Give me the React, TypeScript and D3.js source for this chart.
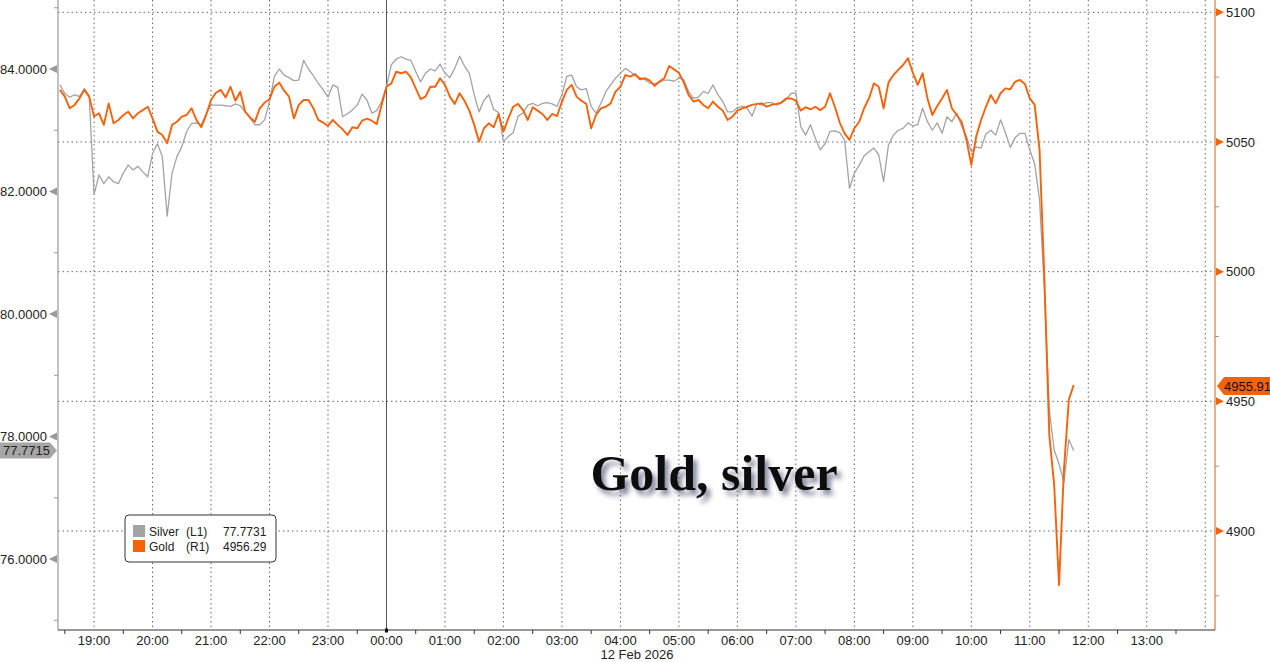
import React from "react";
import * as d3 from "d3";

const W = 1270;
const H = 662;

// Series sampled every 5 minutes starting 11 Feb 2026 18:25
const START = new Date(2026, 1, 11, 18, 25);
const STEP_MIN = 5;

const silver = [
  83.74, 83.6, 83.54, 83.58, 83.55, 83.68, 83.56, 81.95, 82.27, 82.13,
  82.24, 82.16, 82.13, 82.3, 82.43, 82.35, 82.41, 82.32, 82.24, 82.62,
  82.78, 82.57, 81.6, 82.3, 82.57, 82.73, 82.98, 83.11, 83.12, 83.09,
  83.27, 83.41, 83.41, 83.41, 83.4, 83.39, 83.43, 83.4, 83.3, 83.2,
  83.09, 83.09, 83.17, 83.47, 83.88, 84.0, 83.9, 83.86, 83.81, 83.82,
  84.14, 84.0, 83.89, 83.77, 83.66, 83.54, 83.74, 83.7, 83.22, 83.27,
  83.33, 83.41, 83.59, 83.49, 83.28, 83.32, 83.47, 83.71, 84.07, 84.16,
  84.2, 84.16, 84.14, 83.96, 83.79, 83.93, 84.0, 83.97, 84.08, 83.93,
  83.86, 84.01, 84.21, 84.05, 83.93, 83.58, 83.3, 83.49, 83.58, 83.34,
  83.29, 82.81, 82.9, 82.96, 83.23, 83.28, 83.41, 83.44, 83.4, 83.44,
  83.45, 83.43, 83.39, 83.58, 83.88, 83.9, 83.71, 83.66, 83.68, 83.39,
  83.28, 83.44, 83.63, 83.74, 83.85, 83.93, 84.01, 83.96, 83.89, 83.86,
  83.83, 83.77, 83.76, 83.78, 83.82, 83.82, 83.8, 83.85, 83.83, 83.63,
  83.52, 83.54, 83.63, 83.6, 83.74, 83.58, 83.47, 83.3, 83.3, 83.37,
  83.39, 83.36, 83.23, 83.44, 83.41, 83.45, 83.45, 83.41, 83.44, 83.5,
  83.6, 83.61, 83.06, 82.92, 83.09, 82.87, 82.68, 82.78, 82.98, 82.99,
  82.96, 82.84, 82.05, 82.3, 82.43, 82.58, 82.65, 82.71, 82.6, 82.16,
  82.76, 82.92, 83.0, 83.03, 83.12, 83.07, 83.09, 83.36, 83.14, 83.0,
  83.12, 82.95, 83.22, 83.14, 83.28, 83.07, 82.9, 82.65, 82.73, 82.71,
  82.94, 83.0, 82.92, 83.17, 82.96, 82.72, 82.88, 82.95, 82.95, 82.68,
  82.45, 81.86, 80.39, 78.43, 77.78, 77.55, 77.25, 77.95, 77.77,
];

const gold = [
  5070.1, 5067.5, 5063.0, 5064.3, 5066.8, 5070.1, 5067.5, 5059.8, 5061.1, 5056.6,
  5064.9, 5057.2, 5058.5, 5060.4, 5061.7, 5059.1, 5061.1, 5062.3, 5063.6, 5059.1,
  5054.0, 5052.7, 5049.5, 5056.6, 5057.8, 5059.8, 5060.4, 5063.0, 5058.5, 5055.7,
  5060.4, 5066.2, 5069.0, 5070.1, 5067.2, 5071.3, 5065.9, 5069.4, 5061.7, 5059.5,
  5057.8, 5063.0, 5065.2, 5066.5, 5071.3, 5072.9, 5069.8, 5067.5, 5059.1, 5064.3,
  5066.2, 5066.2, 5063.0, 5058.5, 5057.5, 5056.2, 5058.5, 5056.6, 5054.9, 5052.7,
  5055.7, 5055.3, 5058.2, 5059.0, 5058.2, 5056.9, 5064.3, 5071.3, 5072.6, 5077.1,
  5076.5, 5077.1, 5074.9, 5070.7, 5066.5, 5067.5, 5071.3, 5071.3, 5074.6, 5072.0,
  5067.5, 5064.7, 5068.8, 5065.9, 5062.1, 5056.6, 5050.1, 5055.3, 5057.2, 5055.7,
  5060.8, 5054.0, 5059.1, 5063.6, 5064.7, 5062.3, 5058.5, 5063.4, 5062.1, 5060.8,
  5058.5, 5060.8, 5060.0, 5065.6, 5070.1, 5072.0, 5067.5, 5065.9, 5064.7, 5055.3,
  5060.4, 5063.0, 5063.6, 5064.9, 5069.4, 5071.3, 5075.8, 5075.2, 5076.2, 5074.2,
  5074.6, 5073.7, 5071.6, 5073.3, 5074.6, 5079.3, 5078.0, 5076.7, 5072.9, 5068.1,
  5065.6, 5066.2, 5064.3, 5063.0, 5065.6, 5063.6, 5062.1, 5058.5, 5059.8, 5062.1,
  5063.0, 5063.6, 5064.3, 5064.7, 5064.9, 5063.6, 5064.3, 5064.7, 5065.2, 5066.8,
  5066.8, 5065.9, 5062.1, 5063.4, 5062.6, 5063.6, 5062.3, 5063.6, 5068.8, 5063.6,
  5057.5, 5053.3, 5050.8, 5055.3, 5057.8, 5063.0, 5066.8, 5072.6, 5071.3, 5063.0,
  5072.9, 5075.8, 5077.8, 5079.7, 5082.3, 5076.7, 5072.0, 5076.5, 5066.8, 5060.4,
  5063.9, 5066.8, 5070.1, 5063.0, 5060.4, 5057.8, 5050.8, 5041.1, 5052.1, 5058.5,
  5063.6, 5068.1, 5064.9, 5068.8, 5070.7, 5070.3, 5073.3, 5073.9, 5072.4, 5066.8,
  5064.3, 5046.9, 4996.8, 4937.0, 4917.7, 4879.2, 4923.5, 4950.5, 4956.29,
];

const leftTicks = [84, 82, 80, 78, 76];
const leftMinor = [85, 83, 81, 79, 77, 75];
const rightTicks = [5100, 5050, 5000, 4950, 4900];
const rightMinor = [5075, 5025, 4975, 4925, 4875];

const seriesNames = ["Silver", "Gold"];
const seriesAxes = ["(L1)", "(R1)"];
const legendValues = ["77.7731", "4956.29"];
const lastSilverTag = "77.7715";
const lastGoldTag = "4955.91";
const dateLabel = "12 Feb 2026";
const title = "Gold, silver";

const SILVER_C = "#a3a3a3";
const GOLD_C = "#f5620a";
const FONT = "'Liberation Sans', Arial, sans-serif";

export default function App() {
  const L = 58, R = 1215, T = 0, B = 630;
  const x = d3
    .scaleTime()
    .domain([new Date(2026, 1, 11, 18, 23), new Date(2026, 1, 12, 14, 10)])
    .range([L, R]);
  const yL = d3.scaleLinear().domain([84, 76]).range([69, 559]);
  const yR = d3.scaleLinear().domain([5050, 4900]).range([142, 531]);

  const times = silver.map((_, i) => d3.timeMinute.offset(START, i * STEP_MIN));
  const silverLine = d3
    .line<number>()
    .x((_, i) => x(times[i]))
    .y((d) => yL(d))(silver);
  const goldLine = d3
    .line<number>()
    .x((_, i) => x(times[i]))
    .y((d) => yR(d))(gold);

  const hours = d3.timeHour.range(
    new Date(2026, 1, 11, 19, 0),
    new Date(2026, 1, 12, 14, 1)
  );
  const halfHours = d3.timeMinute
    .every(30)!
    .range(new Date(2026, 1, 11, 18, 30), new Date(2026, 1, 12, 14, 10))
    .filter((d) => d.getMinutes() === 30);
  const fmt = d3.timeFormat("%H:%M");
  const midnight = new Date(2026, 1, 12, 0, 0);

  const ySilverTag = yL(+lastSilverTag);
  const yGoldTag = yR(+lastGoldTag);

  return (
    <svg
      width={W}
      height={H}
      style={{ position: "absolute", left: 0, top: 0, background: "#fff" }}
      fontFamily={FONT}
    >
      <defs>
        <clipPath id="plot">
          <rect x={L} y={T} width={R - L} height={B - T} />
        </clipPath>
        <filter id="shadow" x="-10%" y="-30%" width="130%" height="170%">
          <feGaussianBlur in="SourceAlpha" stdDeviation="2.5" result="b" />
          <feOffset in="b" dx="4" dy="5" result="o" />
          <feFlood floodColor="#5c5f7a" floodOpacity="0.75" />
          <feComposite in2="o" operator="in" result="s" />
          <feMerge>
            <feMergeNode in="s" />
            <feMergeNode in="SourceGraphic" />
          </feMerge>
        </filter>
      </defs>
      <rect x={0} y={0} width={W} height={H} fill="#fff" />

      {/* horizontal grid (right axis majors) */}
      {rightTicks.map((v) => (
        <line
          key={"hg" + v}
          x1={L}
          x2={R}
          y1={yR(v)}
          y2={yR(v)}
          stroke="#666"
          strokeWidth={1}
          strokeDasharray="1.5 3"
        />
      ))}
      {/* vertical grid */}
      {hours.map((h) =>
        +h === +midnight ? (
          <line key={"vg" + +h} x1={x(h)} x2={x(h)} y1={T} y2={B} stroke="#555" strokeWidth={1} />
        ) : (
          <line
            key={"vg" + +h}
            x1={x(h)}
            x2={x(h)}
            y1={T}
            y2={B}
            stroke="#666"
            strokeWidth={1}
            strokeDasharray="1.5 3"
          />
        )
      )}

      {/* series */}
      <g clipPath="url(#plot)">
        <path d={silverLine || ""} fill="none" stroke={SILVER_C} strokeWidth={1.3} strokeLinejoin="round" />
        <path d={goldLine || ""} fill="none" stroke={GOLD_C} strokeWidth={1.9} strokeLinejoin="round" />
      </g>

      {/* left axis */}
      <line x1={L} x2={L} y1={T} y2={B} stroke="#999" strokeWidth={1.2} />
      {leftTicks.map((v) => (
        <g key={"lt" + v}>
          <polygon points={`${L - 1},${yL(v) - 4} ${L - 1},${yL(v) + 4} ${L - 9},${yL(v)}`} fill="#999" />
          <text x={47} y={yL(v) + 4.5} textAnchor="end" fontSize={13} fill="#222">
            {v.toFixed(4)}
          </text>
        </g>
      ))}
      {leftMinor.map((v) => (
        <line key={"lm" + v} x1={L - 4} x2={L} y1={yL(v)} y2={yL(v)} stroke="#999" />
      ))}

      {/* right axis */}
      <line x1={R} x2={R} y1={T} y2={B} stroke="#dd7a35" strokeWidth={1.2} />
      {rightTicks.map((v) => (
        <g key={"rt" + v}>
          <polygon points={`${R + 1},${yR(v) - 4} ${R + 1},${yR(v) + 4} ${R + 9},${yR(v)}`} fill={GOLD_C} />
          <text x={1226} y={yR(v) + 4.5} fontSize={13} fill="#222">
            {v}
          </text>
        </g>
      ))}
      {rightMinor.map((v) => (
        <line key={"rm" + v} x1={R} x2={R + 4} y1={yR(v)} y2={yR(v)} stroke="#999" />
      ))}

      {/* x axis */}
      <line x1={L} x2={R} y1={B} y2={B} stroke="#333" strokeWidth={1.2} />
      {halfHours.map((h) => (
        <line key={"hh" + +h} x1={x(h)} x2={x(h)} y1={B} y2={B + 4} stroke="#333" />
      ))}
      <rect x={x(midnight) - 1.5} y={B - 1.5} width={3} height={4} fill="#111" />
      {hours
        .filter((h) => +h < +new Date(2026, 1, 12, 13, 30))
        .map((h) => (
          <text key={"xl" + +h} x={x(h)} y={645} textAnchor="middle" fontSize={13} fill="#222">
            {fmt(h)}
          </text>
        ))}
      <text x={x(new Date(2026, 1, 12, 4, 0)) - 20} y={659} fontSize={13} fill="#222">
        {dateLabel}
      </text>

      {/* last value tags */}
      <polygon
        points={`0,${ySilverTag - 8} 50,${ySilverTag - 8} 57,${ySilverTag} 50,${ySilverTag + 8} 0,${ySilverTag + 8}`}
        fill="#a6a6a6"
      />
      <text x={3} y={ySilverTag + 4.5} fontSize={13} fill="#222">
        {lastSilverTag}
      </text>
      <polygon
        points={`${R + 2},${yGoldTag} ${R + 9},${yGoldTag - 9} ${W},${yGoldTag - 9} ${W},${yGoldTag + 9} ${R + 9},${yGoldTag + 9}`}
        fill={GOLD_C}
      />
      <text x={1224} y={yGoldTag + 4.5} fontSize={13} fill="#111">
        {lastGoldTag}
      </text>

      {/* legend */}
      <rect x={125} y={515} width={151} height={47} rx={4} fill="#fff" stroke="#333" strokeWidth={1} />
      {seriesNames.map((n, i) => (
        <g key={"lg" + n}>
          <rect x={133} y={525 + i * 15} width={12} height={12} fill={i === 0 ? SILVER_C : GOLD_C} />
          <text x={149} y={536 + i * 15} fontSize={12} fill="#222">
            {n}
          </text>
          <text x={186} y={536 + i * 15} fontSize={12} fill="#222">
            {seriesAxes[i]}
          </text>
          <text x={223} y={536 + i * 15} fontSize={12} fill="#222">
            {legendValues[i]}
          </text>
        </g>
      ))}

      {/* title */}
      <text
        x={714}
        y={490}
        textAnchor="middle"
        fontFamily="'Liberation Serif', 'Times New Roman', serif"
        fontWeight="bold"
        fontSize={50}
        fill="#111"
        filter="url(#shadow)"
      >
        {title}
      </text>
    </svg>
  );
}
